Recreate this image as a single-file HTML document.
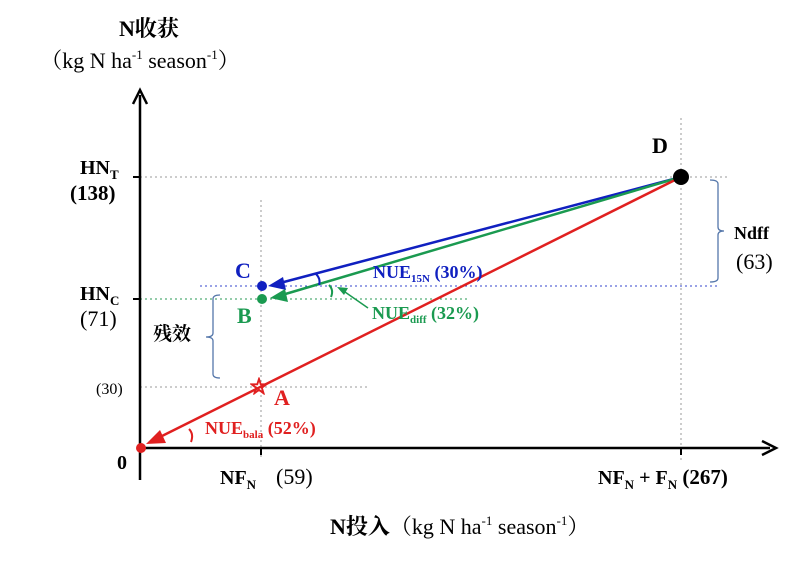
<!DOCTYPE html>
<html><head><meta charset="utf-8"><style>
body{margin:0;background:#fff;width:800px;height:559px;overflow:hidden}
text{font-family:"Liberation Serif","Noto Serif CJK SC",serif}
</style></head><body>
<svg width="800" height="559" viewBox="0 0 800 559" xmlns="http://www.w3.org/2000/svg">
<g stroke-dasharray="2,3" stroke-width="1" fill="none">
<line x1="140" y1="177" x2="727" y2="177" stroke="#999"/>
<line x1="200" y1="286" x2="720" y2="286" stroke="#3344cc"/>
<line x1="140" y1="299" x2="470" y2="299" stroke="#2a9a55"/>
<line x1="140" y1="387" x2="370" y2="387" stroke="#999"/>
<line x1="261" y1="200" x2="261" y2="460" stroke="#999"/>
<line x1="681" y1="118" x2="681" y2="460" stroke="#999"/>
</g>
<line x1="140" y1="95" x2="140" y2="480" stroke="#000" stroke-width="2.5"/>
<path d="M133,104 L140,90 L147,104" stroke="#000" stroke-width="2.5" fill="none"/>
<line x1="140" y1="448" x2="770" y2="448" stroke="#000" stroke-width="2.5"/>
<path d="M762,441 L776,448 L762,455" stroke="#000" stroke-width="2.5" fill="none"/>
<line x1="133" y1="177" x2="140" y2="177" stroke="#000" stroke-width="2"/>
<line x1="133" y1="299" x2="140" y2="299" stroke="#000" stroke-width="2"/>
<line x1="261" y1="448" x2="261" y2="455" stroke="#000" stroke-width="2"/>
<line x1="681" y1="448" x2="681" y2="455" stroke="#000" stroke-width="2"/>
<line x1="681" y1="177" x2="280" y2="283" stroke="#1020c0" stroke-width="2.5"/>
<polygon points="268,286 283,277 286,290" fill="#1020c0"/>
<line x1="681" y1="177" x2="282" y2="295" stroke="#1a9a50" stroke-width="2.5"/>
<polygon points="270,298 285,289 288,302" fill="#1a9a50"/>
<line x1="681" y1="177" x2="158" y2="438" stroke="#e02020" stroke-width="2.5"/>
<polygon points="146,444 160,430 166,443" fill="#e02020"/>
<circle cx="681" cy="177" r="8" fill="#000"/>
<circle cx="262" cy="286" r="5" fill="#1020c0"/>
<circle cx="262" cy="299" r="5" fill="#1a9a50"/>
<circle cx="141" cy="448" r="5" fill="#e02020"/>
<text x="259" y="393" font-size="18" fill="#fff" stroke="#e02020" stroke-width="1.2" text-anchor="middle">☆</text>
<path d="M316,274 Q321,279 319,285" stroke="#1020c0" stroke-width="2" fill="none"/>
<path d="M329,285 Q334,290 331,297" stroke="#1a9a50" stroke-width="2" fill="none"/>
<path d="M189,429 Q194,434 191,442" stroke="#e02020" stroke-width="2" fill="none"/>
<line x1="368" y1="308" x2="345" y2="292" stroke="#1a9a50" stroke-width="1.5"/>
<polygon points="337,287 348,288 344,295" fill="#1a9a50"/>
<path d="M710,180 Q718,180 718,184 L718,227 Q718,231 724,231 Q718,231 718,235 L718,278 Q718,282 710,282" stroke="#5577aa" stroke-width="1.3" fill="none"/>
<path d="M220,295 Q213,295 213,299 L213,333 Q213,337 206,337 Q213,337 213,341 L213,374 Q213,378 220,378" stroke="#5577aa" stroke-width="1.3" fill="none"/>
<text x="149" y="36" font-size="22" font-weight="bold" text-anchor="middle">N收获</text>
<text x="140" y="68" font-size="22" text-anchor="middle">（kg N ha<tspan font-size="13" dy="-9">-1</tspan><tspan dy="9"> season</tspan><tspan font-size="13" dy="-9">-1</tspan><tspan dy="9">）</tspan></text>
<text x="80" y="174" font-size="20" font-weight="bold">HN<tspan font-size="13" dy="5">T</tspan></text>
<text x="70" y="200" font-size="21" font-weight="bold">(138)</text>
<text x="80" y="300" font-size="20" font-weight="bold">HN<tspan font-size="13" dy="5">C</tspan></text>
<text x="80" y="326" font-size="22">(71)</text>
<text x="96" y="394" font-size="16">(30)</text>
<text x="117" y="469" font-size="20" font-weight="bold">0</text>
<text x="153" y="340" font-size="19" font-weight="bold" font-family="Noto Sans CJK SC,sans-serif">残效</text>
<text x="235" y="278" font-size="22" font-weight="bold" fill="#1020c0">C</text>
<text x="237" y="323" font-size="22" font-weight="bold" fill="#1a9a50">B</text>
<text x="274" y="405" font-size="22" font-weight="bold" fill="#e02020">A</text>
<text x="652" y="153" font-size="22" font-weight="bold">D</text>
<text x="373" y="278" font-size="18" font-weight="bold" fill="#1020c0">NUE<tspan font-size="11" dy="4">15N</tspan><tspan dy="-4"> (30%)</tspan></text>
<text x="372" y="319" font-size="18" font-weight="bold" fill="#1a9a50">NUE<tspan font-size="11" dy="4">diff</tspan><tspan dy="-4"> (32%)</tspan></text>
<text x="205" y="434" font-size="18" font-weight="bold" fill="#e02020">NUE<tspan font-size="11" dy="4">bala</tspan><tspan dy="-4"> (52%)</tspan></text>
<text x="734" y="239" font-size="18" font-weight="bold">Ndff</text>
<text x="736" y="269" font-size="22">(63)</text>
<text x="220" y="484" font-size="20" font-weight="bold">NF<tspan font-size="13" dy="5">N</tspan></text>
<text x="276" y="484" font-size="22">(59)</text>
<text x="598" y="484" font-size="20" font-weight="bold">NF<tspan font-size="13" dy="5">N</tspan><tspan dy="-5"> + F</tspan><tspan font-size="13" dy="5">N</tspan><tspan dy="-5" font-size="21"> (267)</tspan></text>
<text x="330" y="534" font-size="22"><tspan font-weight="bold">N投入</tspan>（kg N ha<tspan font-size="13" dy="-9">-1</tspan><tspan dy="9"> season</tspan><tspan font-size="13" dy="-9">-1</tspan><tspan dy="9">）</tspan></text>
</svg>
</body></html>
